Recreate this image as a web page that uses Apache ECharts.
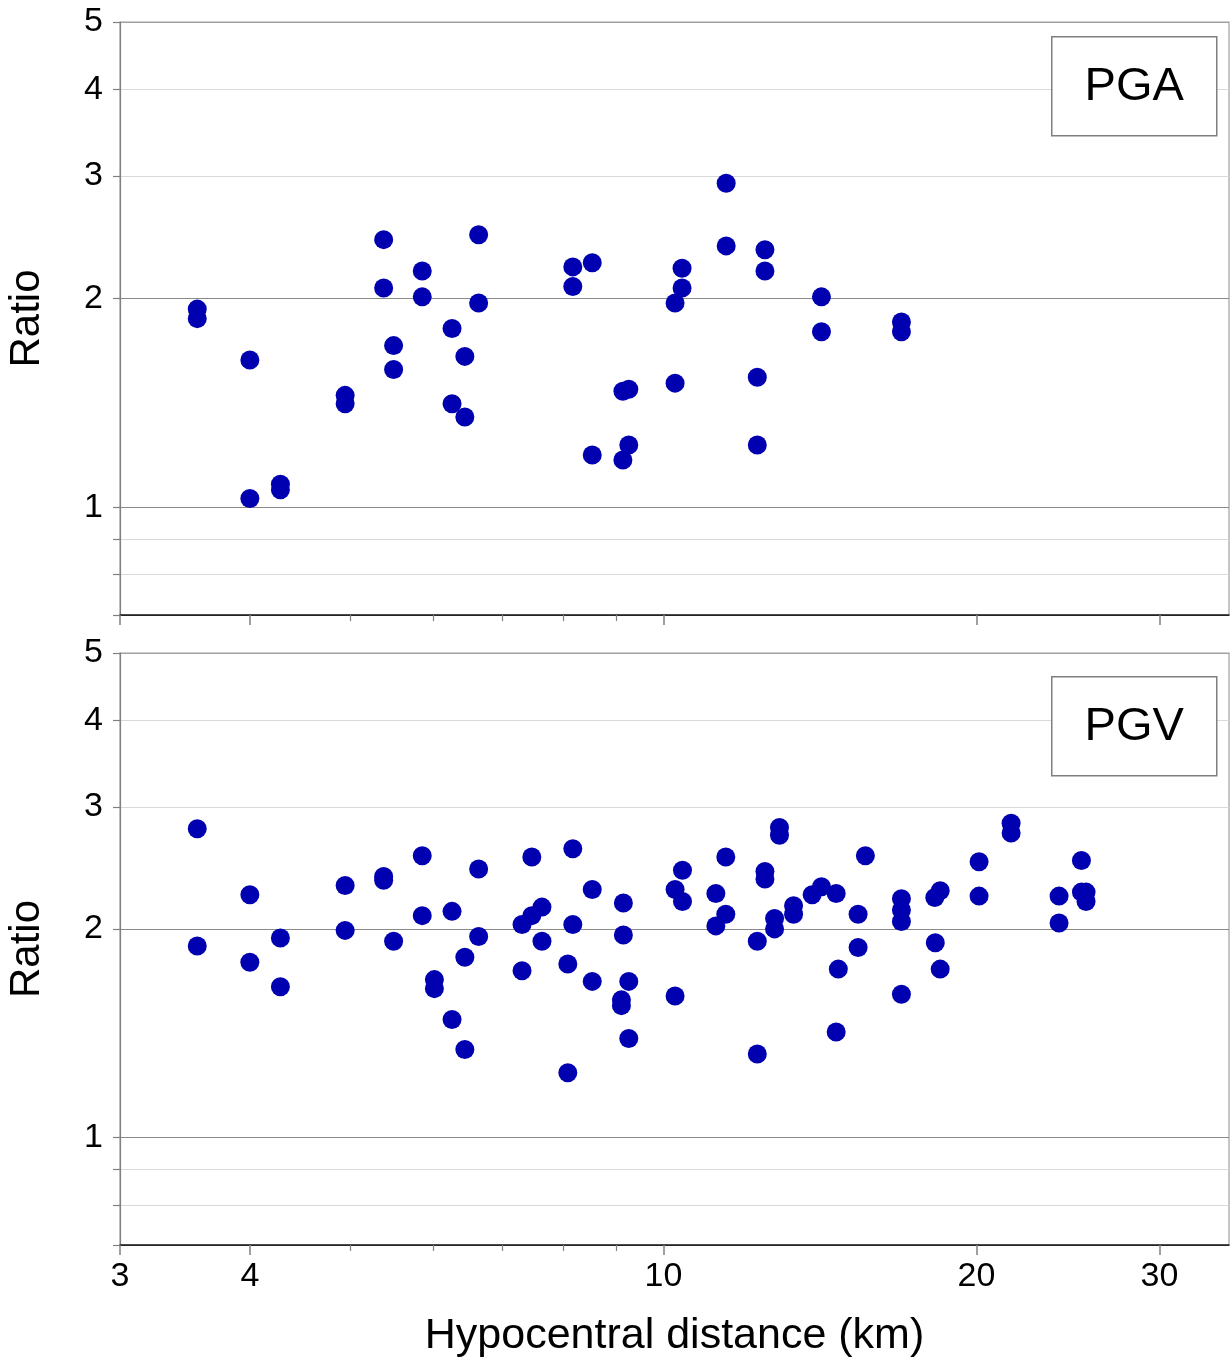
<!DOCTYPE html>
<html>
<head>
<meta charset="utf-8">
<title>Ratio vs hypocentral distance</title>
<script src="https://cdn.jsdelivr.net/npm/echarts@6.0.0/dist/echarts.min.js"></script>
<style>
  html, body { margin: 0; padding: 0; background: #fff; }
  #main { width: 1231px; height: 1367px; }
</style>
</head>
<body>
<div id="main"></div>
<script>
// top panel: PGA ratio against hypocentral distance (km)
var pgaDist = [3.56, 3.56, 4.0, 4.0, 4.28, 4.28, 4.94, 4.94, 5.38, 5.38, 5.50, 5.50, 5.86, 5.86, 6.26, 6.26, 6.44, 6.44, 6.64, 6.64,
  8.18, 8.18, 8.54, 8.54, 9.14, 9.26, 9.26, 9.14, 10.26, 10.42, 10.42, 10.26, 11.49, 11.49, 12.52, 12.52, 12.31, 12.31, 14.19, 14.19, 16.94, 16.94];
var pgaRatio = [1.93, 1.87, 1.63, 1.03, 1.08, 1.06, 1.45, 1.41, 2.43, 2.07, 1.71, 1.58, 2.19, 2.01, 1.81, 1.41, 1.65, 1.35, 2.47, 1.97,
  2.22, 2.08, 2.25, 1.19, 1.47, 1.48, 1.23, 1.17, 1.97, 2.07, 2.21, 1.51, 2.93, 2.38, 2.35, 2.19, 1.54, 1.23, 2.01, 1.79, 1.85, 1.79];

// bottom panel: PGV ratio
var pgvDist = [3.56, 3.56, 4.0, 4.0, 4.28, 4.28, 4.94, 4.94, 5.38, 5.38, 5.50, 5.86, 5.86, 6.02, 6.02, 6.26, 6.26, 6.44, 6.44, 6.64, 6.64,
  7.31, 7.47, 7.64, 7.47, 7.64, 7.31, 8.18, 8.18, 8.09, 8.09, 8.54, 8.54, 9.15, 9.15, 9.26, 9.11, 9.11, 9.26,
  10.43, 10.26, 10.43, 10.26, 11.48, 11.23, 11.48, 11.23, 12.93, 12.93, 12.52, 12.52, 12.31, 12.31, 12.79, 12.79, 13.34, 13.34, 13.90, 14.19, 14.66, 14.73, 14.66,
  15.64, 15.39, 15.39, 16.94, 16.94, 16.94, 16.94, 18.24, 18.46, 18.26, 18.46, 20.12, 20.12, 21.60, 21.60, 24.02, 24.02, 25.24, 25.24, 25.50, 25.50];
var pgvRatio = [2.79, 1.89, 2.24, 1.79, 1.94, 1.65, 2.31, 1.99, 2.38, 2.35, 1.92, 2.55, 2.09, 1.69, 1.64, 2.12, 1.48, 1.82, 1.34, 2.44, 1.95,
  2.03, 2.09, 2.15, 2.54, 1.92, 1.74, 2.61, 2.03, 1.78, 1.24, 2.28, 1.68, 2.18, 1.96, 1.68, 1.58, 1.55, 1.39,
  2.43, 2.28, 2.19, 1.60, 2.54, 2.25, 2.10, 2.02, 2.80, 2.73, 2.42, 2.36, 1.92, 1.32, 2.07, 2.00, 2.16, 2.10, 2.24, 2.30, 2.25, 1.75, 1.42,
  2.55, 2.10, 1.88, 2.21, 2.13, 2.05, 1.61, 2.22, 2.27, 1.91, 1.75, 2.50, 2.23, 2.84, 2.75, 2.23, 2.04, 2.51, 2.26, 2.26, 2.19];

var xLabelValues = [3, 4, 10, 20, 30];
var xMinorTicks = [5, 6, 7, 8, 9];
var yLabelValues = [1, 2, 3, 4, 5];
var yTickValues = [0.7, 0.8, 0.9, 1, 2, 3, 4, 5];
var panelNames = ['PGA', 'PGV'];

var FONT = 'Liberation Sans';
var dotColor = '#0000b0';
// one colour per y tick line, 1 and 2 darker
var gridColors = ['#333333', '#d9d9d9', '#d9d9d9', '#8a8a8a', '#8a8a8a', '#d9d9d9', '#d9d9d9', '#a0a0a0'];

function toPairs(xs, ys) {
  var out = [];
  for (var i = 0; i < xs.length; i++) {
    out.push([xs[i], ys[i]]);
  }
  return out;
}

function majorX(gridIndex, withLabels) {
  return {
    type: 'log',
    logBase: 10,
    gridIndex: gridIndex,
    position: 'bottom',
    min: 3,
    max: 35,
    name: withLabels ? 'Hypocentral distance (km)' : '',
    nameLocation: 'middle',
    nameGap: 70,
    nameTextStyle: { fontFamily: FONT, fontSize: 43, color: '#000' },
    axisLine: { show: true, onZero: false, lineStyle: { color: '#222', width: 1.5 } },
    axisTick: { show: true, length: 10, customValues: xLabelValues, lineStyle: { color: '#808080', width: 1.5 } },
    axisLabel: { show: withLabels, customValues: xLabelValues, margin: 15, fontFamily: FONT, fontSize: 34, color: '#000' },
    splitLine: { show: false }
  };
}

// second axis on the same grid, only for the short ticks 5..9
function minorX(gridIndex) {
  return {
    type: 'log',
    logBase: 10,
    gridIndex: gridIndex,
    position: 'bottom',
    min: 3,
    max: 35,
    axisLine: { show: false, onZero: false },
    axisTick: { show: true, length: 6, customValues: xMinorTicks, lineStyle: { color: '#808080', width: 1.2 } },
    axisLabel: { show: false },
    splitLine: { show: false }
  };
}

function ratioY(gridIndex) {
  return {
    type: 'log',
    logBase: 10,
    gridIndex: gridIndex,
    min: 0.7,
    max: 5,
    name: 'Ratio',
    nameLocation: 'middle',
    nameGap: 72,
    nameTextStyle: { fontFamily: FONT, fontSize: 42, color: '#000' },
    axisLine: { show: true, onZero: false, lineStyle: { color: '#808080', width: 1.2 } },
    axisTick: { show: true, length: 7, customValues: yTickValues, lineStyle: { color: '#808080', width: 1.2 } },
    axisLabel: { customValues: yLabelValues, margin: 17, fontFamily: FONT, fontSize: 34, color: '#000' },
    splitLine: { show: true, lineStyle: { color: gridColors, width: 1.2 } }
  };
}

function panelBox(name, top) {
  return {
    type: 'group',
    left: 1051,
    top: top,
    z: 100,
    children: [
      { type: 'rect', z: 100, shape: { x: 0, y: 0, width: 165, height: 99 }, style: { fill: '#fff', stroke: '#7f7f7f', lineWidth: 1.5 } },
      { type: 'text', z: 101, x: 82.5, y: 50, style: { text: name, fontFamily: FONT, fontSize: 47, fill: '#000', align: 'center', verticalAlign: 'middle' } }
    ]
  };
}

var chart = echarts.init(document.getElementById('main'), null, { renderer: 'canvas' });

var option = {
  animation: false,
  backgroundColor: '#fff',
  grid: [
    { left: 120, right: 2, top: 22, height: 593, containLabel: false, outerBoundsMode: 'none', show: true, borderColor: '#a0a0a0', borderWidth: 1.2 },
    { left: 120, right: 2, top: 653, height: 592, containLabel: false, outerBoundsMode: 'none', show: true, borderColor: '#a0a0a0', borderWidth: 1.2 }
  ],
  xAxis: [majorX(0, false), minorX(0), majorX(1, true), minorX(1)],
  yAxis: [ratioY(0), ratioY(1)],
  graphic: [panelBox(panelNames[0], 36), panelBox(panelNames[1], 676)],
  series: [
    {
      name: panelNames[0],
      type: 'scatter',
      xAxisIndex: 0,
      yAxisIndex: 0,
      symbol: 'circle',
      symbolSize: 19,
      itemStyle: { color: dotColor, opacity: 1 },
      data: toPairs(pgaDist, pgaRatio)
    },
    {
      name: panelNames[1],
      type: 'scatter',
      xAxisIndex: 2,
      yAxisIndex: 1,
      symbol: 'circle',
      symbolSize: 19,
      itemStyle: { color: dotColor, opacity: 1 },
      data: toPairs(pgvDist, pgvRatio)
    }
  ]
};

chart.setOption(option);
</script>
</body>
</html>
